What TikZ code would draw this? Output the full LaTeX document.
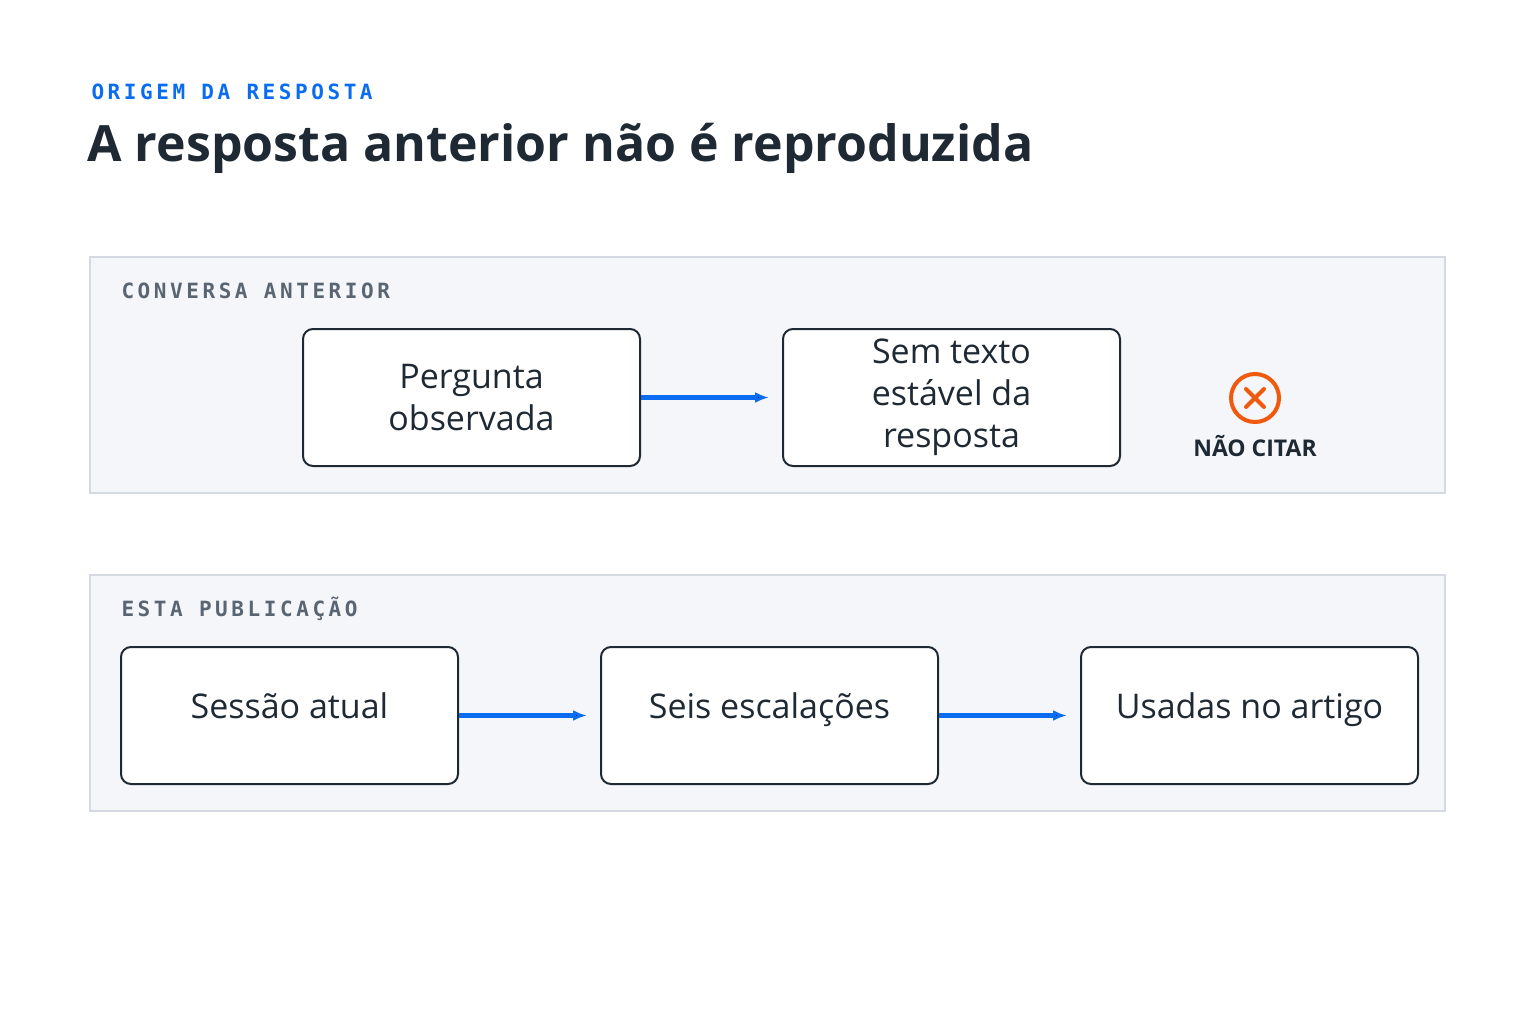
\documentclass[tikz,border=0pt]{standalone}
\usepackage{fontspec}
\setmainfont{Open Sans}
\newfontfamily\monofont[LetterSpace=17]{DejaVu Sans Mono}
\newfontfamily\headfont{Open Sans}
\usetikzlibrary{positioning,arrows.meta}
\definecolor{accent}{HTML}{0A6CF0}
\definecolor{inkdark}{HTML}{1F2933}
\definecolor{labelgray}{HTML}{5A6572}
\definecolor{panelfill}{HTML}{F4F6FA}
\definecolor{panelline}{HTML}{D5DAE2}
\definecolor{warn}{HTML}{F05A0F}
\begin{document}
\begin{tikzpicture}[x=1pt,y=-1pt]
	\tikzstyle{panel} = [draw=panelline, fill=panelfill, line width=1.5pt]
	\tikzstyle{stage} = [draw=inkdark, fill=white, rounded corners=10pt, line width=2pt,
		minimum width=337pt, minimum height=137pt, align=center, text=inkdark,
		font=\fontsize{34}{42}\selectfont]
	\tikzstyle{oneline} = [text height=0.75em, text depth=0.25em]
	\tikzstyle{tag} = [anchor=west, text=labelgray, font=\monofont\bfseries\fontsize{21}{24}\selectfont]
	\tikzstyle{flow} = [-{Latex[length=14pt,width=11pt]}, draw=accent, line width=4.5pt, shorten >=13pt]

	\useasboundingbox (0,0) rectangle (1536,1024);
	\fill[white] (0,0) rectangle (1536,1024);

%------------------------------------------------------------
	\node[anchor=west, text=accent, font=\monofont\bfseries\fontsize{21}{24}\selectfont] (kicker) at (88,92) {ORIGEM DA RESPOSTA};
	\node[anchor=west, text=inkdark, font=\headfont\bfseries\fontsize{50}{60}\selectfont] (title) at (84,148) {A resposta anterior não é reproduzida};

%------------------------------------------------------------
	\draw[panel] (90,257) rectangle (1445,493);
	\node[tag] (prev) at (118,291) {CONVERSA ANTERIOR};

	\node[stage] (ask) at (471.5,397.5) {Pergunta\\observada};
	\node[stage] (none) at (951.5,397.5) {Sem texto\\estável da\\resposta};
	\path[flow] (ask) edge (none);

	\node[circle, draw=warn, line width=4pt, minimum size=48pt] (stop) at (1255,398) {};
	\draw[warn, line width=4pt, line cap=round] ([shift={(-9,-9)}]stop.center) -- ([shift={(9,9)}]stop.center)
		([shift={(-9,9)}]stop.center) -- ([shift={(9,-9)}]stop.center);
	\node[text=inkdark, font=\bfseries\fontsize{23}{26}\selectfont] (nocite) at (1255,446) {NÃO CITAR};

%------------------------------------------------------------
	\draw[panel] (90,575) rectangle (1445,811);
	\node[tag] (this) at (118,609) {ESTA PUBLICAÇÃO};

	\node[stage, oneline] (session) at (289.5,715.5) {Sessão atual};
	\node[stage, oneline] (six) at (769.5,715.5) {Seis escalações};
	\node[stage, oneline] (used) at (1249.5,715.5) {Usadas no artigo};
	\path[flow] (session) edge (six);
	\path[flow] (six) edge (used);
\end{tikzpicture}
\end{document}
